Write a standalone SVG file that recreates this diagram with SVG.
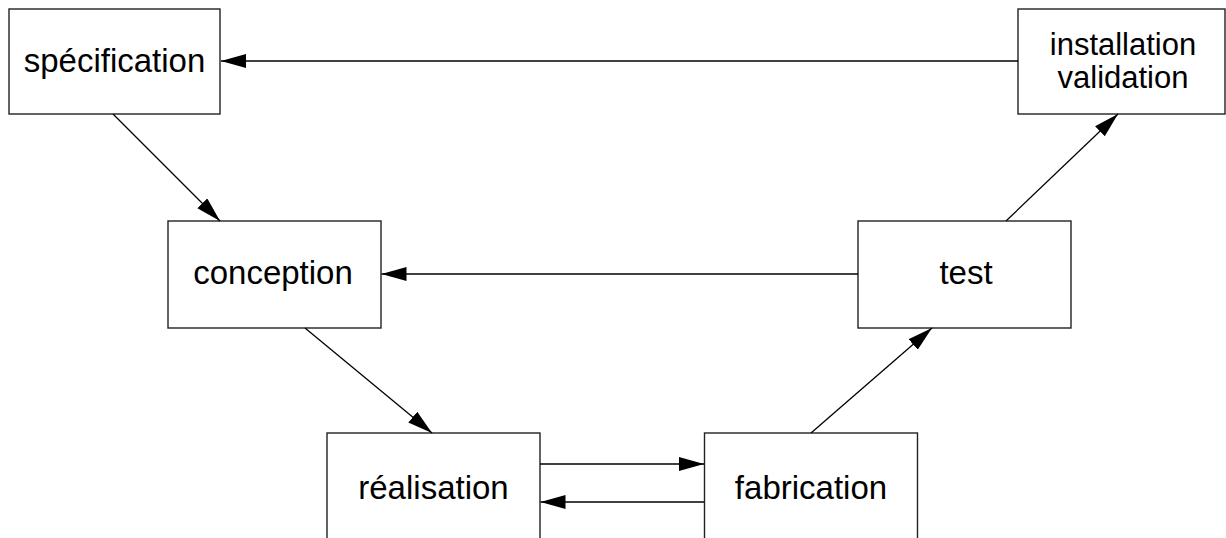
<svg xmlns="http://www.w3.org/2000/svg" width="1226" height="538" viewBox="0 0 1226 538">
  <defs>
    <marker id="arrow" markerUnits="userSpaceOnUse" markerWidth="27" markerHeight="15" refX="25" refY="7" orient="auto">
      <path d="M0,0 L25,7 L0,14 z" fill="#000"/>
    </marker>
    <style>
      .box { fill: #fff; stroke: #222; stroke-width: 1.4; }
      .label { font-family: "Liberation Sans", Arial, sans-serif; font-size: 33px; fill: #000; text-anchor: middle; }
      .small { font-size: 31px; }
      .edge { stroke: #000; stroke-width: 1.3; fill: none; marker-end: url(#arrow); }
    </style>
  </defs>
  <rect width="1226" height="538" fill="#fff"/>

  <!-- process steps -->
  <g id="specification">
    <rect class="box" x="9" y="9" width="211" height="105"/>
    <text class="label" x="114.5" y="71.5">spécification</text>
  </g>
  <g id="installation-validation">
    <rect class="box" x="1018" y="9" width="207" height="105"/>
    <text class="label small" x="1123" y="55">installation</text>
    <text class="label small" x="1123" y="88">validation</text>
  </g>
  <g id="conception">
    <rect class="box" x="168" y="221" width="213" height="107"/>
    <text class="label" x="273" y="284">conception</text>
  </g>
  <g id="test">
    <rect class="box" x="858" y="221" width="213" height="107"/>
    <text class="label" x="966" y="284">test</text>
  </g>
  <g id="realisation">
    <rect class="box" x="327" y="433" width="213" height="110"/>
    <text class="label" x="433.5" y="499">réalisation</text>
  </g>
  <g id="fabrication">
    <rect class="box" x="704.5" y="433" width="213" height="110"/>
    <text class="label" x="811" y="499">fabrication</text>
  </g>

  <!-- connectors -->
  <g id="connectors">
    <line class="edge" x1="1018" y1="61" x2="221" y2="61"/>
    <line class="edge" x1="113" y1="114" x2="220" y2="221"/>
    <line class="edge" x1="858" y1="274" x2="381.5" y2="274"/>
    <line class="edge" x1="305" y1="328" x2="432" y2="433"/>
    <line class="edge" x1="540" y1="464" x2="704" y2="464"/>
    <line class="edge" x1="704" y1="502" x2="540.5" y2="502"/>
    <line class="edge" x1="811" y1="433" x2="932" y2="328"/>
    <line class="edge" x1="1006" y1="221" x2="1118" y2="114"/>
  </g>
</svg>
